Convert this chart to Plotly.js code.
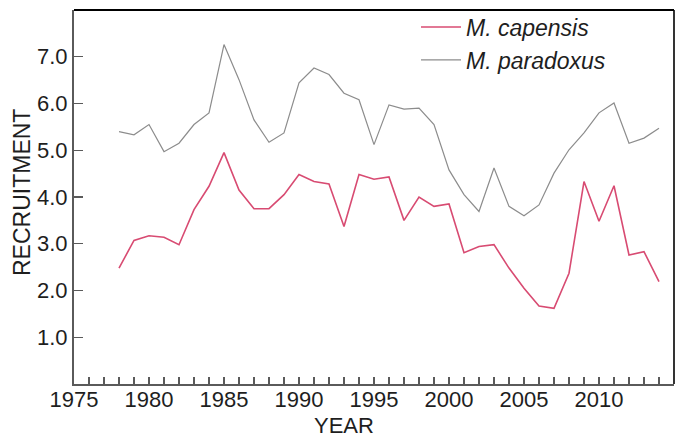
<!DOCTYPE html>
<html>
<head>
<meta charset="utf-8">
<script src="https://cdn.plot.ly/plotly-3.0.1.min.js"></script>
<style>
  html, body { margin: 0; padding: 0; background: #ffffff; }
  #chart { width: 680px; height: 437px; }
</style>
</head>
<body>
<div id="chart"></div>
<script>
// Annual recruitment of the two Cape hake species
var years = [1978, 1979, 1980, 1981, 1982, 1983, 1984, 1985, 1986, 1987,
             1988, 1989, 1990, 1991, 1992, 1993, 1994, 1995, 1996, 1997,
             1998, 1999, 2000, 2001, 2002, 2003, 2004, 2005, 2006, 2007,
             2008, 2009, 2010, 2011, 2012, 2013, 2014];

var capensis = [2.48, 3.07, 3.17, 3.14, 2.98, 3.73, 4.23, 4.95, 4.15, 3.75,
                3.75, 4.05, 4.48, 4.33, 4.28, 3.37, 4.48, 4.38, 4.43, 3.50,
                4.00, 3.80, 3.85, 2.81, 2.94, 2.98, 2.48, 2.05, 1.67, 1.62,
                2.37, 4.33, 3.48, 4.24, 2.76, 2.83, 2.19];

var paradoxus = [5.40, 5.33, 5.55, 4.97, 5.15, 5.55, 5.80, 7.26, 6.51, 5.65,
                 5.17, 5.37, 6.44, 6.76, 6.62, 6.22, 6.08, 5.12, 5.97, 5.88,
                 5.90, 5.55, 4.58, 4.05, 3.69, 4.62, 3.80, 3.60, 3.83, 4.51,
                 5.01, 5.37, 5.80, 6.01, 5.15, 5.26, 5.47];

var seriesNames = ['M. capensis', 'M. paradoxus'];
var xTickYears = [1975, 1980, 1985, 1990, 1995, 2000, 2005, 2010];
var yTickValues = [1, 2, 3, 4, 5, 6, 7];

var FONT = 'Liberation Sans, Arial, Helvetica, sans-serif';
var AXIS_GREY = '#5a5a5a';
var TEXT = '#1e1e1e';

var traces = [
  {
    x: years, y: capensis, name: seriesNames[0],
    type: 'scatter', mode: 'lines',
    line: { color: '#d84b72', width: 1.6 }
  },
  {
    x: years, y: paradoxus, name: seriesNames[1],
    type: 'scatter', mode: 'lines',
    line: { color: '#8c8c8c', width: 1.2 }
  }
];

var layout = {
  width: 680, height: 437,
  margin: { l: 74, r: 6, t: 10, b: 53, pad: 0 },
  paper_bgcolor: '#ffffff',
  plot_bgcolor: '#ffffff',
  font: { family: FONT, color: TEXT, size: 22 },
  showlegend: true,
  legend: {
    x: 0.57, xanchor: 'left', y: 1.012, yanchor: 'top',
    bgcolor: 'rgba(0,0,0,0)', borderwidth: 0,
    itemwidth: 40,
    font: { family: FONT, size: 23, color: TEXT, style: 'italic' },
    tracegroupgap: 0
  },
  xaxis: {
    range: [1975, 2015],
    tickmode: 'array', tickvals: xTickYears,
    ticks: 'inside', ticklen: 7, tickwidth: 1.3, tickcolor: AXIS_GREY,
    minor: { dtick: 1, tick0: 1975, ticks: 'inside', ticklen: 7, tickwidth: 1.3, tickcolor: AXIS_GREY, showgrid: false },
    showline: true, linecolor: AXIS_GREY, linewidth: 2,
    showgrid: false, zeroline: false,
    ticklabelstandoff: -5,
    tickfont: { family: FONT, size: 22, color: TEXT },
    fixedrange: true
  },
  yaxis: {
    range: [0, 8],
    tickmode: 'array', tickvals: yTickValues,
    tickformat: '.1f',
    ticks: 'inside', ticklen: 9, tickwidth: 1.3, tickcolor: AXIS_GREY,
    showline: true, linecolor: AXIS_GREY, linewidth: 2,
    showgrid: false, zeroline: false,
    tickfont: { family: FONT, size: 22, color: TEXT },
    fixedrange: true
  },
  shapes: [
    // dark frame on the top and right sides of the plotting area
    { type: 'line', xref: 'paper', yref: 'paper', x0: 0, x1: 1, y0: 1, y1: 1,
      line: { color: '#000000', width: 2.2 } },
    { type: 'line', xref: 'paper', yref: 'paper', x0: 1, x1: 1, y0: 0, y1: 1,
      line: { color: '#000000', width: 1.6 } }
  ],
  annotations: [
    { text: 'YEAR', xref: 'paper', yref: 'paper', x: 0.45, y: 0, yshift: -41,
      xanchor: 'center', yanchor: 'middle', showarrow: false,
      font: { family: FONT, size: 22, color: TEXT } },
    { text: 'RECRUITMENT', xref: 'paper', yref: 'paper', x: 0, xshift: -52,
      y: 0.5, yshift: 4, textangle: -90,
      xanchor: 'center', yanchor: 'middle', showarrow: false,
      font: { family: FONT, size: 23, color: TEXT } }
  ]
};

Plotly.newPlot('chart', traces, layout, { displayModeBar: false, staticPlot: true });
</script>
</body>
</html>
